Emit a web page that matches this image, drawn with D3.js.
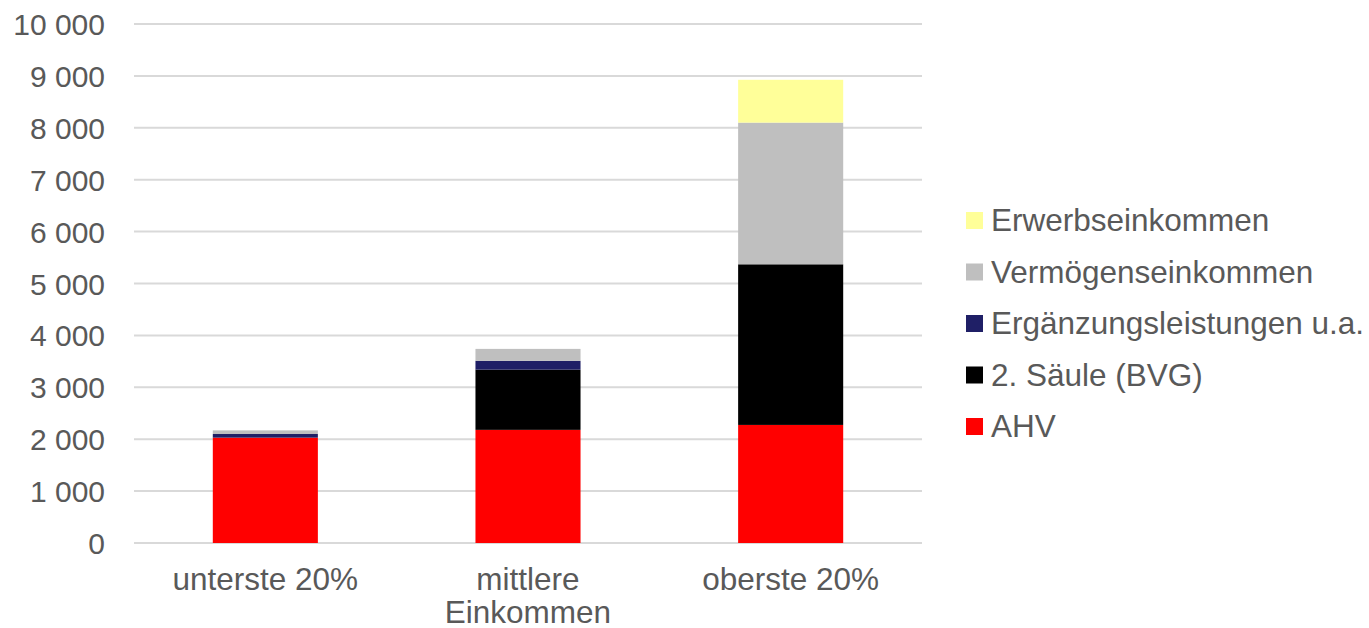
<!DOCTYPE html>
<html>
<head>
<meta charset="utf-8">
<script src="https://cdn.jsdelivr.net/npm/d3@7"></script>
<style>
  body { margin: 0; background: #fff; }
  text { font-family: "Liberation Sans", Arial, sans-serif; fill: #595959; }
</style>
</head>
<body>
<svg id="chart" width="1369" height="628"></svg>
<script>
// categories and series (CHF per month)
var categories = [["unterste 20%"], ["mittlere", "Einkommen"], ["oberste 20%"]];
var seriesNames = ["AHV", "2. Säule (BVG)", "Ergänzungsleistungen u.a.", "Vermögenseinkommen", "Erwerbseinkommen"];
var seriesColors = ["#ff0000", "#000000", "#1f1f66", "#bfbfbf", "#ffff99"];
var ahv = [2030, 2180, 2275];
var bvg = [0, 1160, 3095];
var el = [70, 170, 0];
var vermoegen = [70, 230, 2730];
var erwerb = [0, 0, 825];
var yTicks = [0, 1000, 2000, 3000, 4000, 5000, 6000, 7000, 8000, 9000, 10000];

var svg = d3.select("#chart");
var plotLeft = 134, plotRight = 922, plotTop = 24, plotBottom = 543;

var x = d3.scaleBand()
    .domain(d3.range(categories.length))
    .range([plotLeft, plotRight])
    .paddingInner(0.6)
    .paddingOuter(0.3);

var y = d3.scaleLinear()
    .domain([0, 10000])
    .range([plotBottom, plotTop]);

var fmt = function(v) { return d3.format(",")(v).replace(/,/g, " "); };

// gridlines
svg.append("g")
    .selectAll("line")
    .data(yTicks)
    .enter()
    .append("line")
    .attr("x1", plotLeft)
    .attr("x2", plotRight)
    .attr("y1", function(d) { return y(d); })
    .attr("y2", function(d) { return y(d); })
    .attr("stroke", "#d9d9d9")
    .attr("stroke-width", 2);

// y axis labels
var yAxis = d3.axisLeft(y).tickValues(yTicks).tickFormat(fmt).tickSize(0).tickPadding(29);
var gy = svg.append("g").attr("transform", "translate(" + plotLeft + ",0)").call(yAxis);
gy.select(".domain").remove();
gy.selectAll("text")
    .style("font-size", "30px")
    .style("font-family", "'Liberation Sans', Arial, sans-serif")
    .attr("fill", "#595959")
    .attr("dy", "0.35em");

// stacked bars
var rows = categories.map(function(c, i) {
    return { i: i, s0: ahv[i], s1: bvg[i], s2: el[i], s3: vermoegen[i], s4: erwerb[i] };
});
var stack = d3.stack().keys(["s0", "s1", "s2", "s3", "s4"]);
var layers = stack(rows);

svg.append("g")
    .selectAll("g")
    .data(layers)
    .enter()
    .append("g")
    .attr("fill", function(d, k) { return seriesColors[k]; })
    .selectAll("rect")
    .data(function(d) { return d; })
    .enter()
    .append("rect")
    .attr("x", function(d) { return x(d.data.i); })
    .attr("width", x.bandwidth())
    .attr("y", function(d) { return y(d[1]); })
    .attr("height", function(d) { return y(d[0]) - y(d[1]); });

// x axis labels
var xl = svg.append("g")
    .selectAll("text")
    .data(categories)
    .enter()
    .append("text")
    .attr("x", function(d, i) { return x(i) + x.bandwidth() / 2; })
    .attr("y", 590)
    .attr("text-anchor", "middle")
    .style("font-size", "31.5px");
xl.selectAll("tspan")
    .data(function(d) { return d; })
    .enter()
    .append("tspan")
    .attr("x", function() { return d3.select(this.parentNode).attr("x"); })
    .attr("dy", function(d, j) { return j === 0 ? 0 : 33; })
    .text(function(d) { return d; });

// legend (reverse order, top = Erwerbseinkommen)
var legendOrder = d3.range(seriesNames.length).reverse();
var legend = svg.append("g")
    .selectAll("g")
    .data(legendOrder)
    .enter()
    .append("g")
    .attr("transform", function(d, j) { return "translate(966," + (220 + j * 51.5) + ")"; });

legend.append("rect")
    .attr("x", 0)
    .attr("y", -8)
    .attr("width", 17)
    .attr("height", 17)
    .attr("fill", function(d) { return seriesColors[d]; });

legend.append("text")
    .attr("x", 25)
    .attr("y", 0)
    .attr("dy", "0.35em")
    .style("font-size", "31.5px")
    .text(function(d) { return seriesNames[d]; });
</script>
</body>
</html>
